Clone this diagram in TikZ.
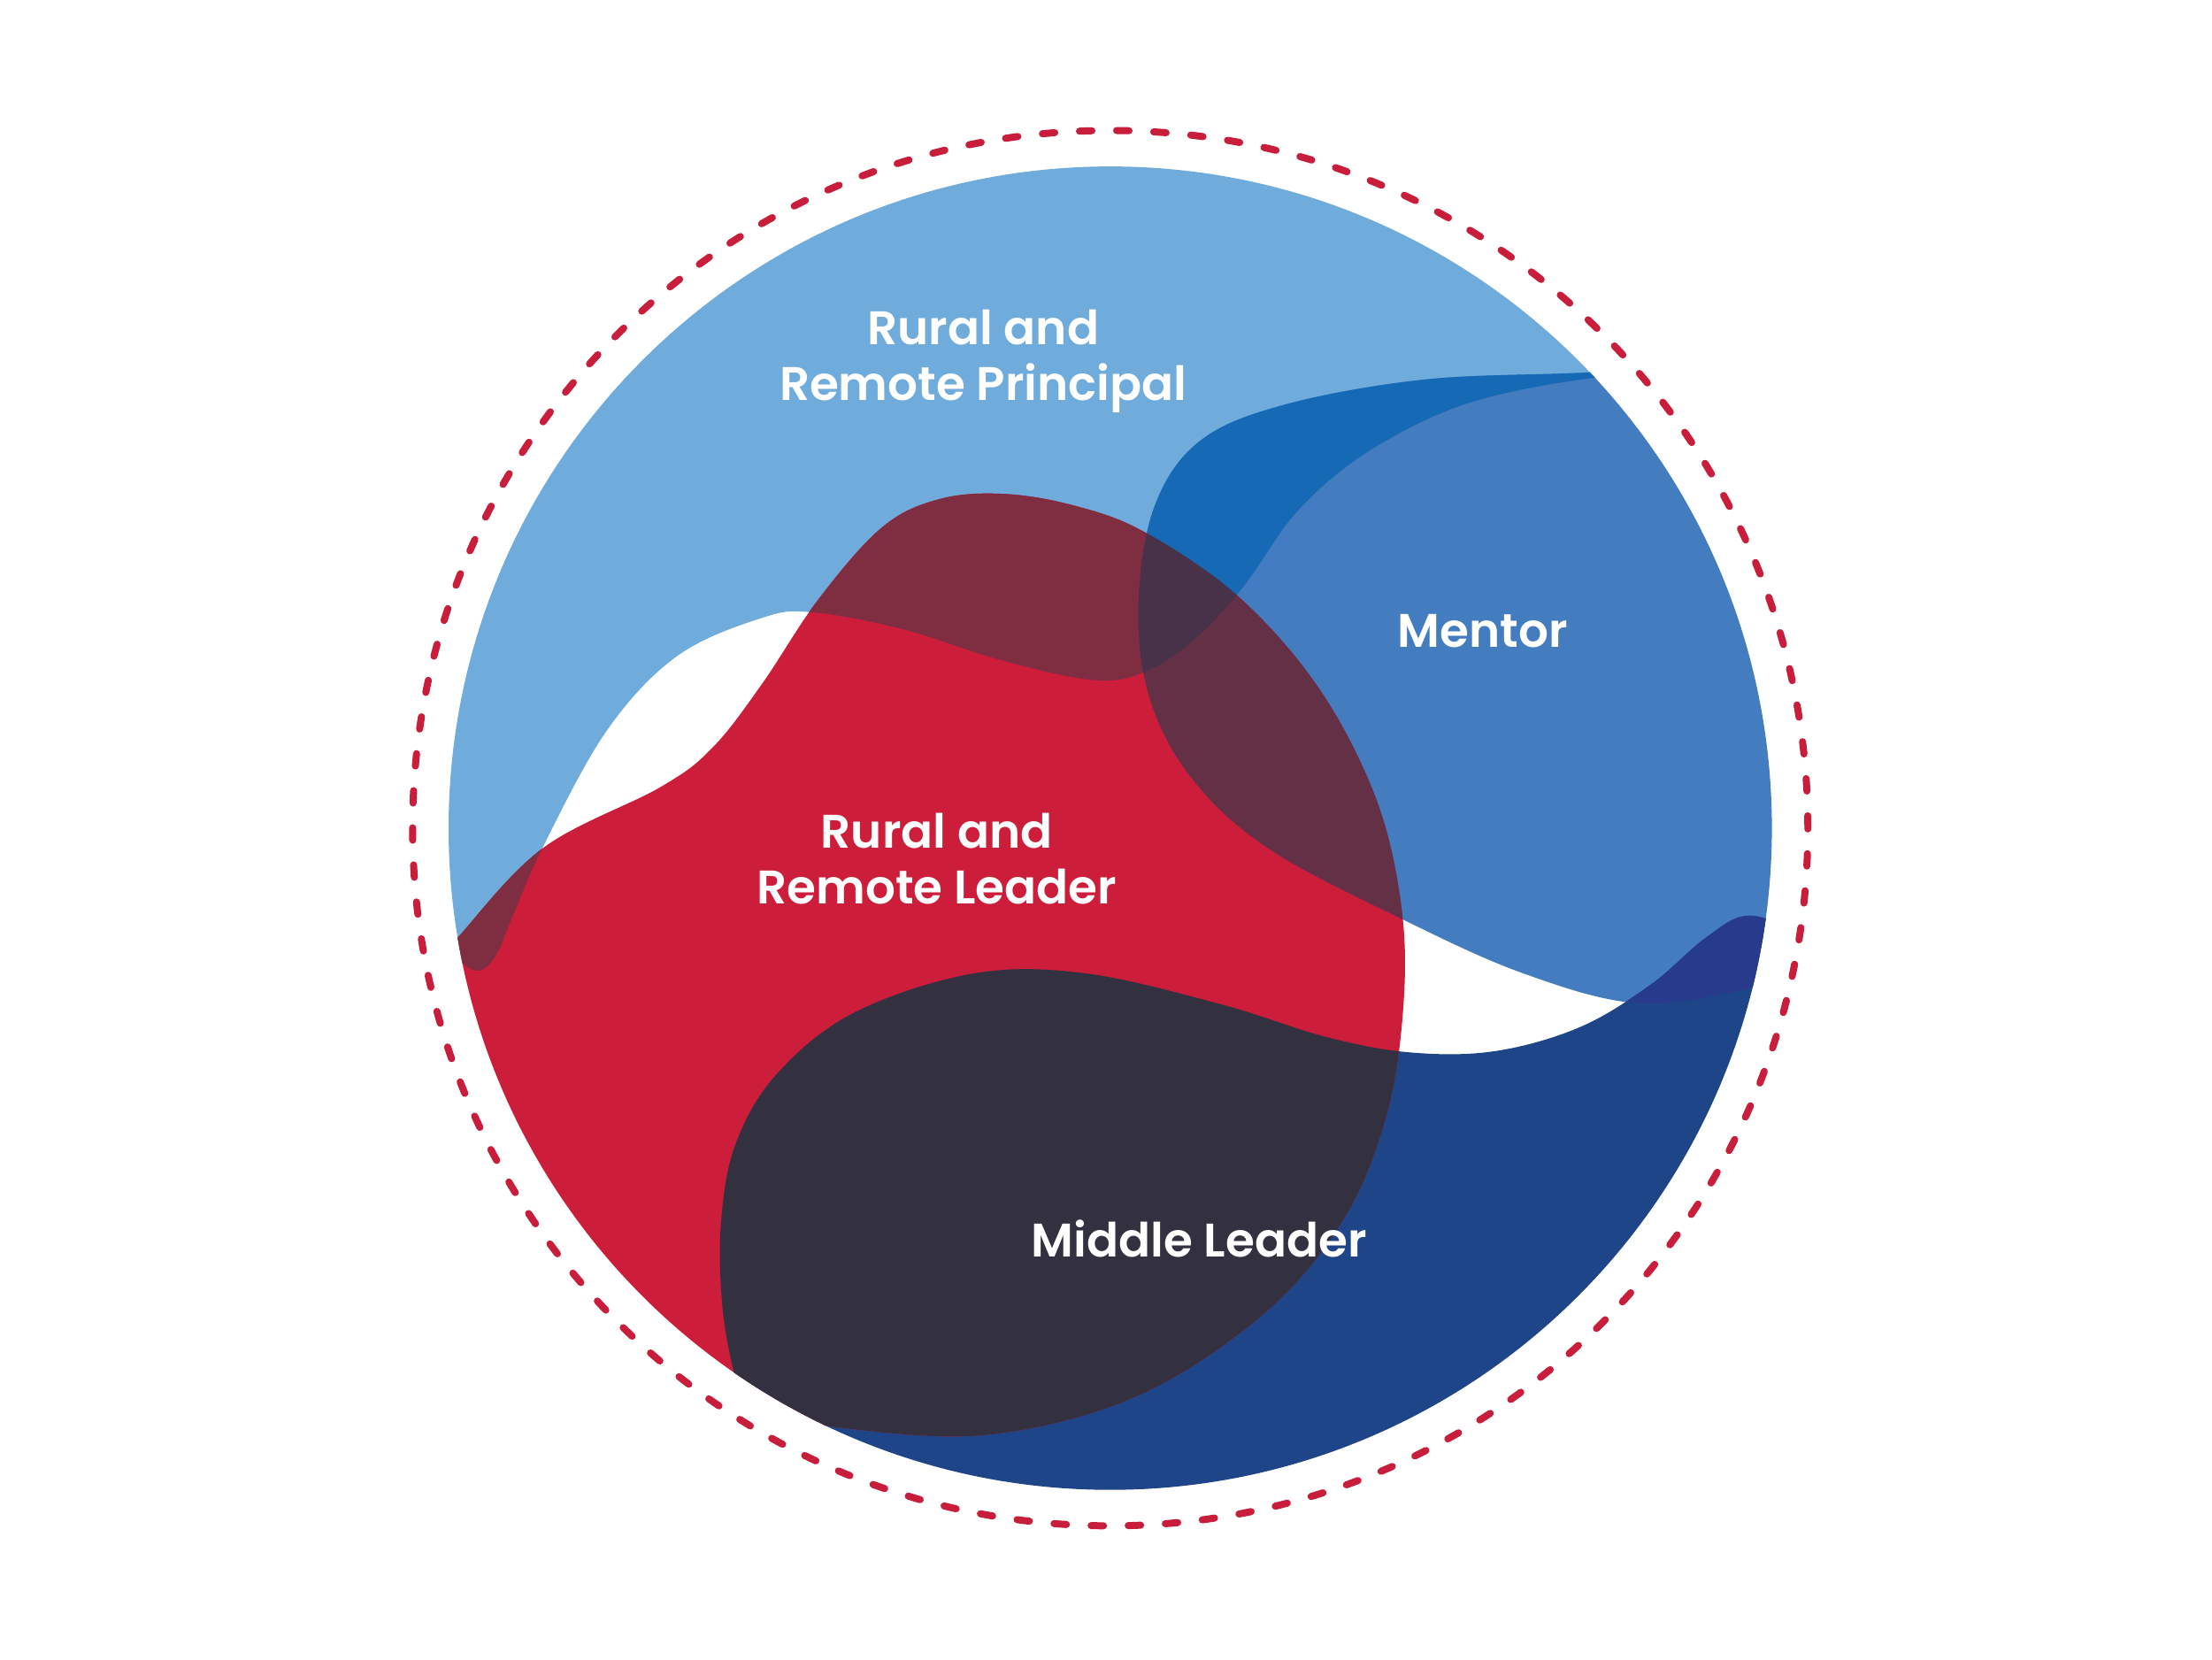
\documentclass[tikz,border=0pt]{standalone}
\usepackage{fontspec}
\setmainfont{Poppins}[UprightFont=* SemiBold]
\usepackage{tikz}
\definecolor{PrincipalBlue}{HTML}{6FABDB}
\definecolor{MentorBlue}{HTML}{447CC0}
\definecolor{DeepBlue}{HTML}{166AB5}
\definecolor{MiddleBlue}{HTML}{1F4589}
\definecolor{Indigo}{HTML}{283A8B}
\definecolor{LeaderRed}{HTML}{CC1E3A}
\definecolor{Maroon}{HTML}{7F2D41}
\definecolor{Plum}{HTML}{633045}
\definecolor{DarkPlum}{HTML}{47324A}
\definecolor{Charcoal}{HTML}{33313F}
\definecolor{RingRed}{HTML}{C81E3C}

\newcommand\PrincipalShape{plot[smooth,tension=0.6] coordinates {(300,650) (322,677) (338,688) (351,678) (364,648) (385,600) (430,518) (480,465) (540,438) (576,434) (640,446) (710,468) (775,482) (812,476) (848,452) (882,415) (920,362) (970,320) (1040,286) (1128,268) (1190,266)} -- (1300,266) -- (1300,60) -- (250,60) -- (250,650) -- cycle}
\newcommand\MentorShape{plot[smooth,tension=0.6] coordinates {(1190,258) (1125,264) (1010,269) (910,287) (850,313) (818,360) (807,430) (815,495) (845,552) (900,602) (995,652) (1080,690) (1160,711) (1234,702) (1270,690)} -- (1320,690) -- (1320,200) -- (1190,200) -- cycle}
\newcommand\LeaderShape{plot[smooth,tension=0.6] coordinates {(300,695) (325,664) (385,601) (468,558) (505,530) (540,485) (580,425) (625,374) (665,354) (710,350) (760,358) (811,377) (878,423) (935,488) (975,565) (993,640) (995,710) (983,790) (952,865) (895,932) (805,990) (700,1017) (596,1012) (545,1000)} -- (250,1100) -- (250,700) -- cycle}
\newcommand\MiddleShape{plot[smooth,tension=0.6] coordinates {(532,1012) (520,972) (512,925) (511,868) (521,812) (550,762) (605,718) (690,690) (770,690) (866,712) (940,735) (1000,746) (1060,745) (1120,728) (1170,698) (1210,664) (1240,649) (1280,662)} -- (1320,1120) -- (540,1120) -- cycle}

\begin{document}
\begin{tikzpicture}[x=0.2mm,y=-0.2mm,font=\fontsize{19}{22.5}\selectfont,
  blobtext/.style={text=white,align=center,inner sep=0pt}]
  \useasboundingbox (0,0) rectangle (1568,1176);
  \fill[white] (0,0) rectangle (1568,1176);
  \coordinate (O) at (787,587);
  \begin{scope}
    \clip (O) circle[radius=93.8mm];
    \fill[PrincipalBlue] \PrincipalShape;
    \fill[MentorBlue] \MentorShape;
    \fill[MiddleBlue] \MiddleShape;
    \fill[LeaderRed] \LeaderShape;
    % overlaps
    \begin{scope}\clip \PrincipalShape; \fill[DeepBlue] \MentorShape; \end{scope}
    \begin{scope}\clip \PrincipalShape; \fill[Maroon] \LeaderShape; \end{scope}
    \begin{scope}\clip \MentorShape; \fill[Plum] \LeaderShape; \end{scope}
    \begin{scope}\clip \PrincipalShape; \clip \MentorShape; \fill[DarkPlum] \LeaderShape; \end{scope}
    \begin{scope}\clip \MiddleShape; \fill[Charcoal] \LeaderShape; \end{scope}
    \begin{scope}\clip \MiddleShape; \fill[Indigo] \MentorShape; \end{scope}
  \end{scope}
  \draw[RingRed,line width=1mm,line cap=round,dash pattern=on 1.76mm off 3.506mm] (O) circle[radius=98.9mm];
  \node[blobtext] (principal) at (697,256) {Rural and\\Remote Principal};
  \node[blobtext] (mentor) at (1051,447) {Mentor};
  \node[blobtext] (leader) at (664,609) {Rural and\\Remote Leader};
  \node[blobtext] (middle) at (850,878) {Middle Leader};
\end{tikzpicture}
\end{document}
